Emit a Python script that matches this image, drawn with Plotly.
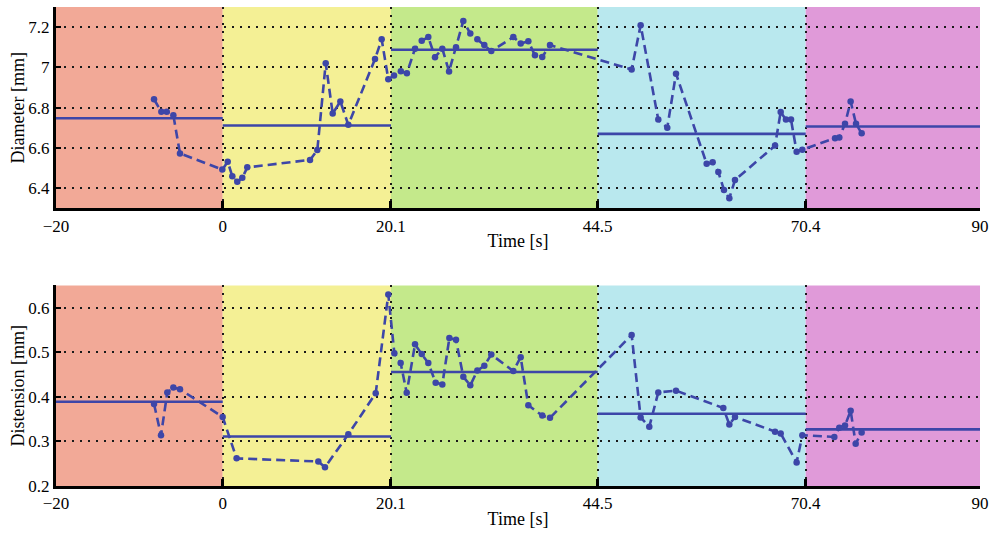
import plotly.graph_objects as go

# ---- data ----
phase_edges = [-20, -0.15, 19.88, 44.49, 69.25, 90]
phase_tick_text = ["\u221220", "0", "20.1", "44.5", "70.4", "90"]
phase_colors = ["#F2A997", "#F4F095", "#C4E98B", "#B9E8EE", "#E09AD9"]

time_d = [-8.33, -7.46, -6.82, -6.03, -5.24, -0.20, 0.44, 0.99, 1.58, 2.18,
          2.77, 10.24, 11.11, 12.11, 12.94, 13.85, 14.8, 17.98, 18.77, 19.56,
          20.24, 21.05, 21.77, 22.74, 23.54, 24.32, 25.12, 25.99, 26.79, 27.62,
          28.49, 29.32, 30.16, 30.99, 31.82, 34.44, 35.32, 36.23, 37.02, 37.89,
          38.81, 48.53, 49.6, 51.7, 52.77, 53.81, 57.46, 58.17, 58.85, 59.52,
          60.16, 60.83, 65.6, 66.27, 66.9, 67.5, 68.17, 68.85, 72.74, 73.25,
          73.93, 74.6, 75.24, 75.91]
diameter = [6.842, 6.780, 6.780, 6.763, 6.573, 6.493, 6.532, 6.460, 6.433, 6.452,
            6.504, 6.541, 6.590, 7.021, 6.771, 6.831, 6.715, 7.042, 7.140, 6.941,
            6.960, 6.981, 6.971, 7.093, 7.132, 7.151, 7.051, 7.093, 6.980, 7.100,
            7.231, 7.169, 7.140, 7.111, 7.081, 7.151, 7.119, 7.130, 7.060, 7.052,
            7.111, 6.990, 7.210, 6.741, 6.701, 6.969, 6.522, 6.530, 6.481, 6.392,
            6.351, 6.441, 6.612, 6.779, 6.741, 6.741, 6.582, 6.592, 6.649, 6.652,
            6.720, 6.831, 6.720, 6.673]
diameter_means = [6.748, 6.712, 7.088, 6.670, 6.707]

time_s = [-8.33, -7.5, -6.75, -6.03, -5.24, -0.16, 1.5, 11.23, 12.02, 14.8,
          18.06, 19.56, 20.28, 21.03, 21.75, 22.74, 23.54, 24.32, 25.2, 25.99,
          26.83, 27.62, 28.49, 29.32, 30.16, 30.99, 31.82, 34.44, 35.32, 36.23,
          37.89, 38.81, 48.53, 49.6, 50.63, 51.7, 53.81, 59.44, 60.16, 60.83,
          65.6, 66.27, 68.17, 68.85, 72.66, 73.25, 73.93, 74.6, 75.2, 75.91]
distension = [0.384, 0.314, 0.410, 0.421, 0.417, 0.355, 0.262, 0.255, 0.242, 0.316,
              0.408, 0.630, 0.498, 0.476, 0.409, 0.518, 0.496, 0.476, 0.432, 0.428,
              0.532, 0.528, 0.445, 0.426, 0.459, 0.470, 0.495, 0.458, 0.489, 0.381,
              0.358, 0.353, 0.539, 0.354, 0.333, 0.410, 0.414, 0.375, 0.338, 0.355,
              0.322, 0.318, 0.253, 0.314, 0.310, 0.331, 0.336, 0.369, 0.295, 0.320]
distension_means = [0.389, 0.311, 0.456, 0.362, 0.327]

diam_ticks = [6.4, 6.6, 6.8, 7.0, 7.2]
diam_ticktext = ["6.4", "6.6", "6.8", "7", "7.2"]
dist_ticks = [0.2, 0.3, 0.4, 0.5, 0.6]
dist_ticktext = ["0.2", "0.3", "0.4", "0.5", "0.6"]

LINE = "#3D46A8"
FONT = "Liberation Serif"

fig = go.Figure()

panels = [
    ("x", "y", time_d, diameter, diameter_means),
    ("x2", "y2", time_s, distension, distension_means),
]
for xa, ya, tx, ty, means in panels:
    for i, m in enumerate(means):
        fig.add_trace(go.Scatter(
            x=[phase_edges[i], phase_edges[i + 1]], y=[m, m], xaxis=xa, yaxis=ya,
            mode="lines", line=dict(color=LINE, width=2.6), hoverinfo="skip",
            showlegend=False))
    fig.add_trace(go.Scatter(
        x=tx, y=ty, xaxis=xa, yaxis=ya, mode="lines+markers",
        line=dict(color=LINE, width=2.6, dash="9px,5px"),
        marker=dict(color=LINE, size=6.5), showlegend=False))

shapes = []
for xr, yr in [("x", "y domain"), ("x2", "y2 domain")]:
    for i, c in enumerate(phase_colors):
        shapes.append(dict(type="rect", xref=xr, yref=yr,
                           x0=phase_edges[i], x1=phase_edges[i + 1], y0=0, y1=1,
                           fillcolor=c, line=dict(width=0), layer="below"))

axis_common = dict(
    showline=True, linecolor="black", linewidth=3, mirror=False,
    ticks="inside", tickcolor="black",
    showgrid=True, gridcolor="#1a1a1a", griddash="2px,6px", gridwidth=1.8,
    zeroline=False,
    tickfont=dict(family=FONT, size=17, color="black"),
    title_font=dict(family=FONT, size=18, color="black"),
)
xaxis_common = dict(axis_common, range=[phase_edges[0], phase_edges[-1]],
                    tickmode="array", tickvals=phase_edges, ticktext=phase_tick_text,
                    ticklen=7, tickwidth=3, title_text="Time [s]", title_standoff=0)

fig.update_layout(
    width=998, height=533,
    margin=dict(l=56, r=18, t=7, b=41),
    paper_bgcolor="white", plot_bgcolor="white",
    shapes=shapes,
    xaxis=dict(xaxis_common, domain=[0, 1], anchor="y"),
    xaxis2=dict(xaxis_common, domain=[0, 1], anchor="y2"),
    yaxis=dict(axis_common, domain=[0.5794, 1], anchor="x", range=[6.3, 7.3],
               tickmode="array", tickvals=diam_ticks, ticktext=diam_ticktext,
               ticklen=5, tickwidth=2, title_text="Diameter [mm]", title_standoff=0),
    yaxis2=dict(axis_common, domain=[0, 0.4186], anchor="x2", range=[0.2, 0.65],
                tickmode="array", tickvals=dist_ticks, ticktext=dist_ticktext,
                ticklen=5, tickwidth=2, title_text="Distension [mm]", title_standoff=0),
)

fig.write_html("out.html")
